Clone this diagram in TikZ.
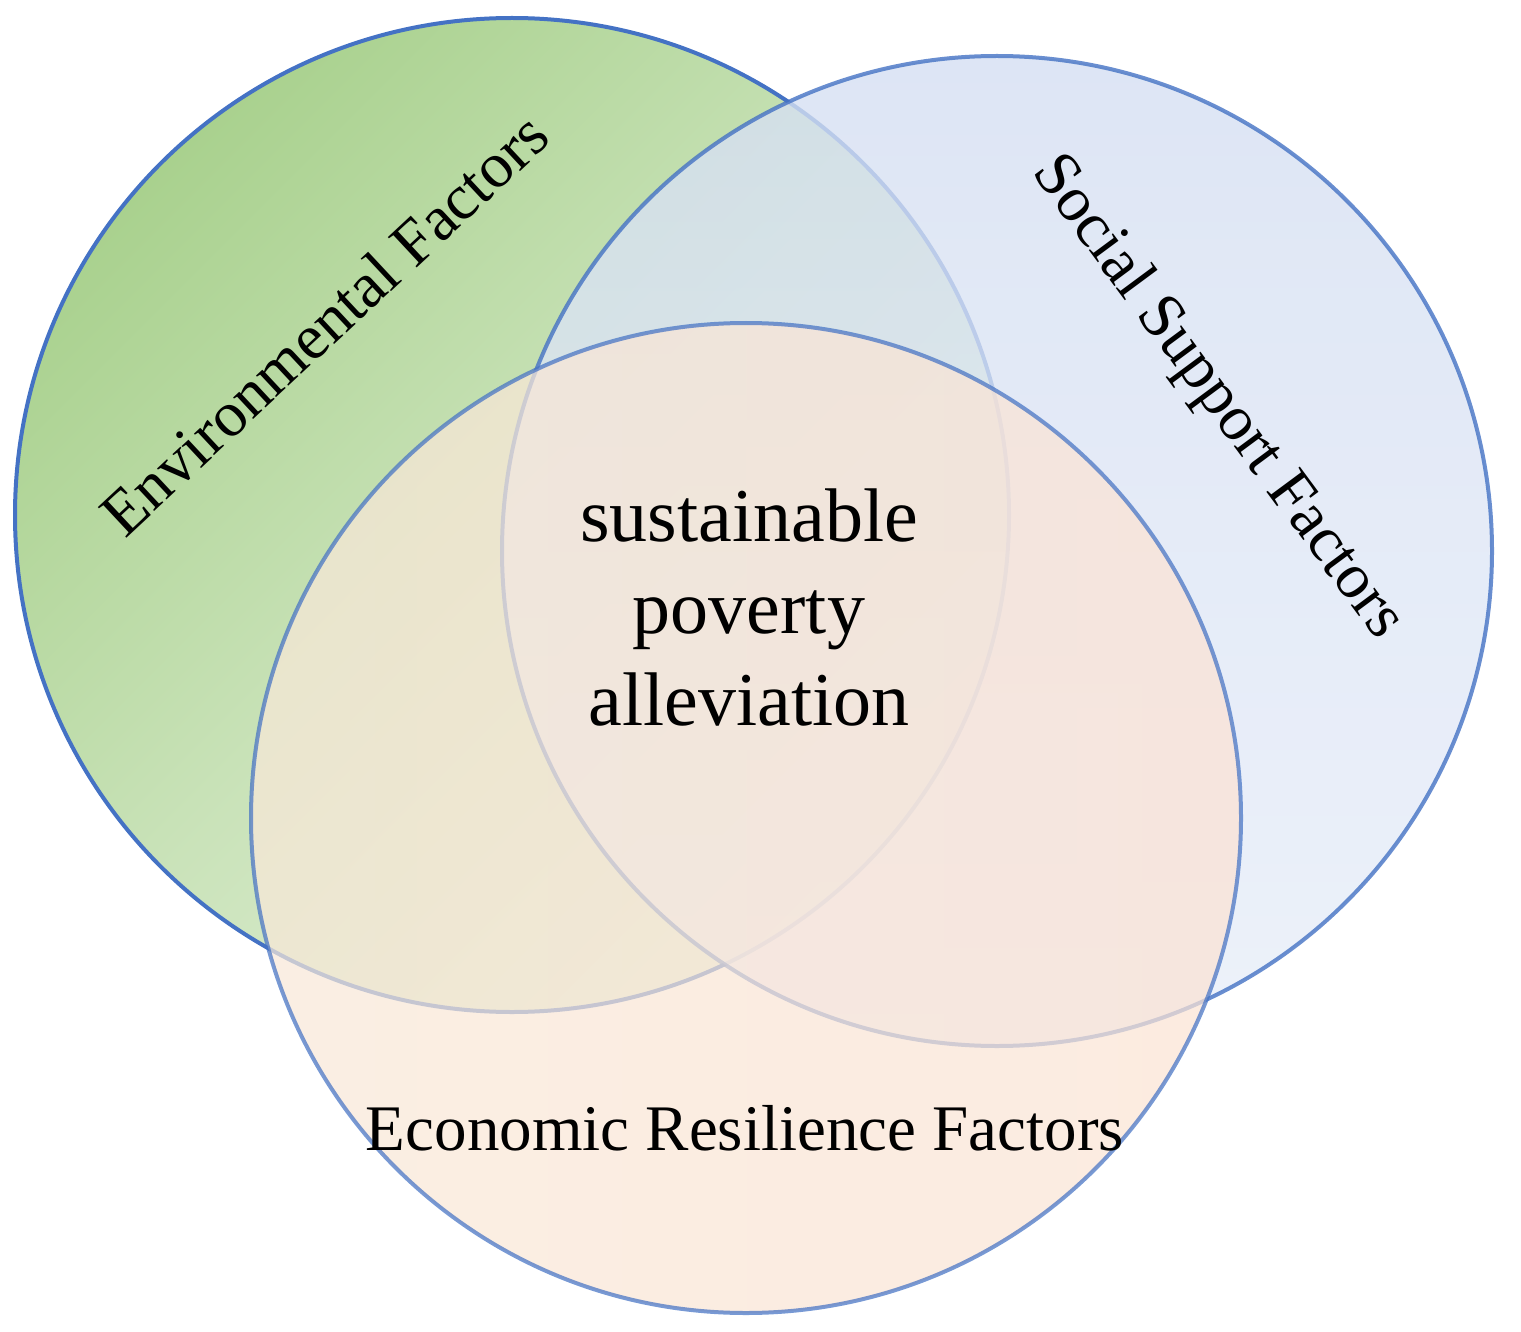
\documentclass[tikz,border=0pt]{standalone}
\usepackage{fontspec}
\setmainfont{Liberation Serif}
\definecolor{edge}{HTML}{4472C4}
\definecolor{gA}{HTML}{A9D18E}
\definecolor{gB}{HTML}{E4F1DC}
\definecolor{bA}{HTML}{D5DFF2}
\definecolor{bB}{HTML}{E8EEF9}
\definecolor{oA}{HTML}{F8E8D8}
\definecolor{oB}{HTML}{FBE3D4}
\tikzset{ring/.style={draw=edge,line width=4pt},
 lab/.style={font=\fontsize{64}{72}\selectfont,inner sep=0pt}}
\begin{document}
\begin{tikzpicture}[x=1pt,y=-1pt]
\useasboundingbox (0,0) rectangle (1521,1332);
\shade[ring,top color=gA,bottom color=gB,shading angle=45,middle color=gA!45!gB] (512,515) circle (497);
\shade[ring,top color=bA,bottom color=bB,opacity=0.8] (997,551) circle (495);
\shade[ring,left color=oA,right color=oB,opacity=0.72] (746,818) circle (495);
\node[lab,rotate=43] (env) at (324,324) {Environmental Factors};
\node[lab,rotate=-53.5] (soc) at (1217,398) {Social Support Factors};
\node[lab,font=\fontsize{65}{72}\selectfont] (eco) at (745,1128) {Economic Resilience Factors};
\node[lab,align=center,font=\fontsize{76}{92}\selectfont] (mid) at (749,608) {sustainable\\poverty\\alleviation};
\end{tikzpicture}
\end{document}
